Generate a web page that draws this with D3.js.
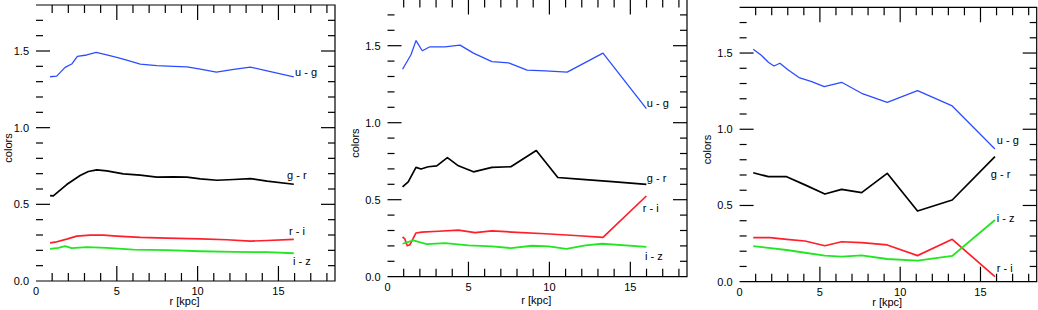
<!DOCTYPE html>
<html>
<head>
<meta charset="utf-8">
<script src="https://cdn.jsdelivr.net/npm/d3@7"></script>
<style>
  body { margin: 0; background: #fff; }
  svg { display: block; }
  text { font-family: "Liberation Sans", Arial, sans-serif; font-size: 11px; fill: #000; }
</style>
</head>
<body>
<div id="chart"></div>
<script>
// tick labels
var xTicks = [0, 5, 10, 15];
var yTicks = [0, 0.5, 1.0, 1.5];
var seriesNames = ["u - g", "g - r", "r - i", "i - z"];
var seriesColors = ["#2b4dff", "#000000", "#ff1f2a", "#22e622"];

// panel 1 : [r (kpc), colour]
var p1Ug = [[0.87,1.332],[1.28,1.336],[1.8,1.393],[2.21,1.415],[2.56,1.465],[3.14,1.474],[3.72,1.491],[4.38,1.474],[5.0,1.459],[5.72,1.437],[6.45,1.415],[7.48,1.404],[8.51,1.40],[9.34,1.397],[10.17,1.382],[11.16,1.362],[12.23,1.38],[13.26,1.395],[14.3,1.371],[15.95,1.332]];
var p1Gr = [[0.87,0.557],[1.07,0.555],[1.9,0.629],[2.73,0.688],[3.24,0.714],[3.76,0.725],[4.38,0.718],[5.41,0.699],[6.45,0.69],[7.48,0.677],[8.51,0.679],[9.34,0.677],[10.17,0.666],[11.2,0.657],[12.23,0.662],[13.26,0.668],[14.3,0.651],[15.95,0.631]];
var p1Ri = [[0.87,0.249],[1.18,0.253],[1.9,0.273],[2.52,0.293],[3.35,0.299],[4.17,0.299],[5.0,0.293],[6.45,0.284],[8.1,0.279],[10.17,0.275],[11.8,0.269],[13.26,0.26],[14.3,0.264],[15.95,0.271]];
var p1Iz = [[0.87,0.21],[1.38,0.216],[1.8,0.227],[2.21,0.214],[3.14,0.221],[4.38,0.216],[6.03,0.205],[8.1,0.201],[10.17,0.194],[12.23,0.19],[14.3,0.188],[15.95,0.181]];

// panel 2
var p2Ug = [[0.93,1.347],[1.45,1.441],[1.76,1.533],[2.15,1.467],[2.62,1.493],[3.55,1.493],[4.48,1.504],[5.31,1.452],[6.45,1.397],[7.48,1.389],[8.62,1.341],[9.75,1.336],[11.1,1.328],[13.31,1.452],[15.99,1.092]];
var p2Gr = [[0.93,0.583],[1.28,0.616],[1.76,0.71],[2.07,0.699],[2.52,0.714],[3.04,0.72],[3.7,0.773],[4.38,0.72],[5.31,0.681],[6.45,0.71],[7.62,0.714],[9.19,0.819],[10.52,0.644],[11.82,0.633],[13.88,0.618],[15.99,0.60]];
var p2Ri = [[0.93,0.258],[1.07,0.245],[1.22,0.201],[1.38,0.207],[1.76,0.284],[2.11,0.29],[3.14,0.295],[4.38,0.303],[5.41,0.286],[6.45,0.297],[7.69,0.29],[9.75,0.279],[11.82,0.266],[13.31,0.255],[15.99,0.524]];
var p2Iz = [[0.93,0.214],[1.59,0.236],[2.42,0.212],[3.55,0.218],[5.0,0.203],[6.45,0.197],[7.62,0.186],[8.93,0.201],[9.96,0.197],[11.05,0.181],[12.23,0.203],[13.26,0.214],[15.99,0.194]];

// panel 3
var p3Ug = [[0.85,1.525],[1.33,1.487],[1.79,1.44],[2.14,1.415],[2.51,1.433],[3.03,1.389],[3.7,1.339],[4.49,1.312],[5.27,1.28],[6.35,1.308],[7.6,1.236],[9.19,1.177],[11.08,1.253],[13.24,1.153],[15.9,0.871]];
var p3Gr = [[0.85,0.715],[1.79,0.689],[2.93,0.689],[4.07,0.635],[5.31,0.575],[6.35,0.606],[7.6,0.584],[9.19,0.711],[11.08,0.464],[13.24,0.536],[15.9,0.82]];
var p3Ri = [[0.85,0.289],[1.89,0.289],[2.93,0.278],[4.07,0.267],[5.31,0.236],[6.35,0.262],[7.6,0.256],[9.19,0.241],[11.08,0.171],[13.24,0.278],[15.9,0.033]];
var p3Iz = [[0.85,0.234],[2.93,0.208],[4.07,0.19],[5.31,0.171],[6.35,0.164],[7.6,0.173],[9.19,0.149],[11.08,0.138],[13.24,0.169],[15.9,0.405]];

// label anchors (data units), order as seriesNames
var p1LabelPos = [[16.03,1.363],[15.53,0.691],[15.66,0.326],[15.9,0.130]];
var p2LabelPos = [[16.02,1.128],[16.02,0.641],[15.77,0.446],[15.9,0.134]];
var p3LabelPos = [[16.02,0.93],[15.64,0.707],[16.02,0.09],[16.02,0.418]];

var panels = [
	{ left: 36, right: 335, top: 5, bottom: 281, series: [p1Ug, p1Gr, p1Ri, p1Iz], labels: p1LabelPos, ylabX: 8, xlabY: 305 },
	{ left: 387.5, right: 687, top: -0.5, bottom: 276.7, series: [p2Ug, p2Gr, p2Ri, p2Iz], labels: p2LabelPos, ylabX: 355, xlabY: 304 },
	{ left: 739.6, right: 1036.7, top: 7.3, bottom: 281.7, series: [p3Ug, p3Gr, p3Ri, p3Iz], labels: p3LabelPos, ylabX: 707, xlabY: 306 }
];
var lineWidths = [1.3, 1.7, 1.7, 1.8];

var svg = d3.select("#chart").append("svg")
	.attr("width", 1038)
	.attr("height", 310);

panels.forEach(function(p) {
	var x = d3.scaleLinear().domain([0, 18.5]).range([p.left, p.right]);
	var y = d3.scaleLinear().domain([0, 1.8]).range([p.bottom, p.top]);
	var g = svg.append("g");

	//frame: top, bottom, right (no left line)
	g.append("path")
		.attr("d", "M" + p.left + "," + p.top + "H" + p.right + "V" + p.bottom + "H" + p.left)
		.attr("fill", "none")
		.attr("stroke", "#000")
		.attr("stroke-width", 1.2);

	//x ticks
	d3.range(1, 19).forEach(function(v) {
		var len = v % 5 === 0 ? 15 : 8;
		g.append("line").attr("x1", x(v)).attr("x2", x(v))
			.attr("y1", p.bottom).attr("y2", p.bottom - len)
			.attr("stroke", "#000").attr("stroke-width", 1.2);
		g.append("line").attr("x1", x(v)).attr("x2", x(v))
			.attr("y1", p.top).attr("y2", p.top + len)
			.attr("stroke", "#000").attr("stroke-width", 1.2);
	});
	//y ticks
	d3.range(1, 18).forEach(function(i) {
		var v = i / 10;
		var len = i % 5 === 0 ? 14 : 7;
		g.append("line").attr("x1", p.left).attr("x2", p.left + len)
			.attr("y1", y(v)).attr("y2", y(v))
			.attr("stroke", "#000").attr("stroke-width", 1.2);
		g.append("line").attr("x1", p.right).attr("x2", p.right - len)
			.attr("y1", y(v)).attr("y2", y(v))
			.attr("stroke", "#000").attr("stroke-width", 1.2);
	});

	//tick labels
	g.selectAll(".xl").data(xTicks).enter().append("text")
		.attr("x", function(d) { return x(d); })
		.attr("y", p.bottom + 14)
		.attr("text-anchor", "middle")
		.text(function(d) { return d; });
	g.selectAll(".yl").data(yTicks).enter().append("text")
		.attr("x", p.left - 7)
		.attr("y", function(d) { return y(d) + 4; })
		.attr("text-anchor", "end")
		.text(function(d) { return d.toFixed(1); });

	//axis titles
	g.append("text")
		.attr("transform", "translate(" + (p.ylabX + 4) + "," + ((p.top + p.bottom) / 2 + 5) + ") rotate(-90)")
		.attr("text-anchor", "middle")
		.text("colors");
	g.append("text")
		.attr("x", (p.left + p.right) / 2 - 1)
		.attr("y", p.xlabY)
		.attr("text-anchor", "middle")
		.text("r [kpc]");

	//series
	var line = d3.line()
		.x(function(d) { return x(d[0]); })
		.y(function(d) { return y(d[1]); });
	p.series.forEach(function(s, i) {
		g.append("path")
			.datum(s)
			.attr("d", line)
			.attr("fill", "none")
			.attr("stroke", seriesColors[i])
			.attr("stroke-width", lineWidths[i])
			.attr("stroke-linejoin", "round");
		g.append("text")
			.attr("x", x(p.labels[i][0]))
			.attr("y", y(p.labels[i][1]) + 4)
			.text(seriesNames[i]);
	});
});
</script>
</body>
</html>
